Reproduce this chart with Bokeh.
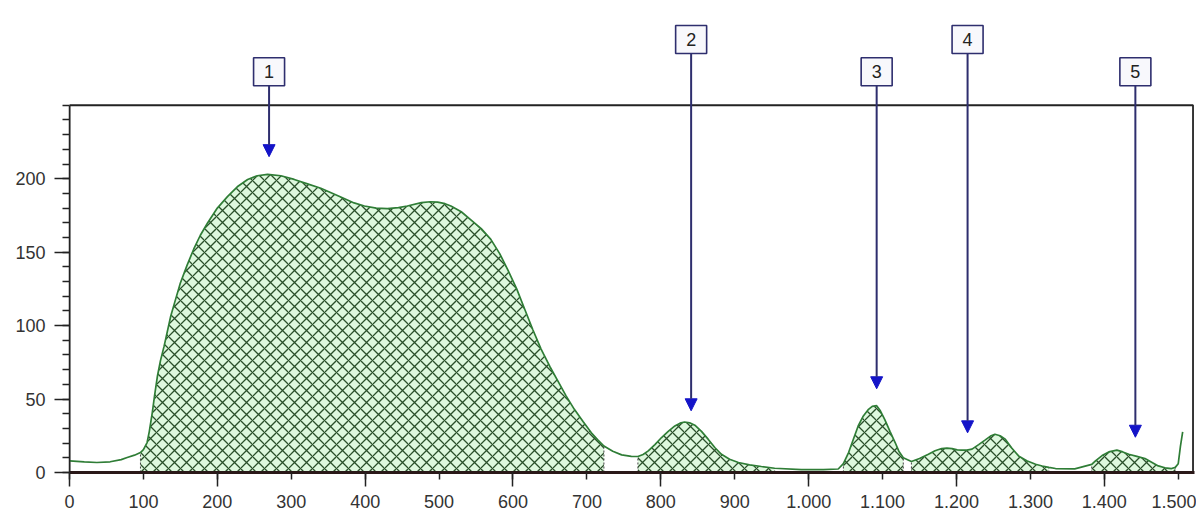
import numpy as np
from bokeh.plotting import figure
from bokeh.models import (Range1d, FixedTicker, BoxAnnotation, Arrow, NormalHead,
                          ColumnDataSource)
from bokeh.embed import file_html
from bokeh.resources import INLINE
from bokeh.core.properties import value

# ---------------- data ----------------
x_vals = [0, 20, 37, 55, 70, 78, 88, 96, 100, 105, 108, 112, 115, 119, 123, 128,
          137, 143, 150, 159, 168, 177, 187, 200, 214, 227, 241, 254, 268, 286,
          304, 322, 340, 367, 385, 399, 415, 430, 445, 457, 476, 488, 498, 508,
          516, 530, 543, 557, 570, 582, 593, 605, 616, 627, 638, 650, 661, 672,
          683, 695, 706, 715, 723, 735, 747, 760, 769, 776, 783, 792, 801, 810,
          819, 826, 832, 839, 846, 855, 864, 873, 882, 893, 905, 920, 936, 954,
          990, 1020, 1040, 1047, 1054, 1060, 1067, 1074, 1081, 1086, 1092, 1097,
          1103, 1110, 1117, 1122, 1128, 1139, 1150, 1162, 1171, 1180, 1187, 1194,
          1201, 1207, 1214, 1221, 1230, 1239, 1246, 1252, 1259, 1266, 1275, 1284,
          1295, 1307, 1316, 1325, 1334, 1360, 1383, 1388, 1397, 1406, 1417, 1425,
          1433, 1444, 1455, 1464, 1473, 1482, 1491, 1496, 1500, 1503, 1506]
y_vals = [7.9, 7.2, 6.8, 7.3, 8.8, 10.2, 11.8, 13.6, 15.5, 20.4, 28, 40.8, 52,
          65.7, 76, 86, 106.5, 117, 129, 141, 152, 161.5, 170, 180, 188, 194.5,
          199.5, 202, 203, 202, 199.5, 196.5, 193.5, 187.5, 183.5, 181.4, 180,
          179.6, 180.3, 181.4, 183.7, 184.3, 184, 183, 181.4, 177.5, 172, 166,
          158.7, 149, 138, 125, 111, 97, 84, 72, 62, 52, 43, 34.5, 27, 22, 18,
          14.5, 12, 11, 10.9, 12.3, 14.7, 19, 23.8, 28, 31.7, 33.6, 34.4, 33.8,
          32.2, 28, 22.7, 17, 12.4, 9, 6.8, 5.2, 4.1, 2.9, 2.0, 2.0, 2.4, 6.0,
          13.6, 22, 31.7, 38.5, 43, 45, 45.5, 42, 36, 28, 20.4, 14.5, 10, 7.5,
          9.5, 12.4, 14.8, 16.3, 16.6, 16.3, 15.4, 15.2, 15.2, 15.9, 19, 22.2,
          24.8, 26, 25, 22.7, 16.5, 11.3, 8, 5.6, 4.4, 3.5, 2.7, 2.5, 5.5, 7.9,
          11.5, 14, 15.2, 14, 12.4, 11, 9.5, 7, 4.5, 3.2, 2.7, 3.5, 6, 18, 27.6]

peak_labels = ["1", "2", "3", "4", "5"]
peak_x = [270, 841, 1092, 1215, 1442]
arrow_tip = [215, 42, 57, 27, 24]
region_start = [96, 769, 1047, 1139, 1383]
region_end = [723, 954, 1128, 1325, 1496]

x_tick_values = list(range(0, 1501, 100))
x_tick_labels = ["0", "100", "200", "300", "400", "500", "600", "700", "800",
                 "900", "1.000", "1.100", "1.200", "1.300", "1.400", "1.500"]
y_tick_values = [0, 50, 100, 150, 200]
y_tick_labels = ["0", "50", "100", "150", "200"]

# ---------------- layout constants ----------------
X_END = 1522
Y_END = 314.5
FRAME_TOP = 250
LOW_ROW = 272.8
HIGH_ROW = 294.8
label_row = [0, 1, 0, 1, 0]

FONT = "Liberation Sans"
LINE_GREEN = "#2f7d36"
FILL_GREEN = "#def8de"
HATCH_GREEN = "#2a4f2a"
NAVY = "#2e2e6e"
BLUE = "#1414c8"

p = figure(width=1196, height=510, x_range=Range1d(0, X_END),
           y_range=Range1d(0, Y_END), output_backend="svg",
           toolbar_location=None, min_border_left=69, min_border_right=2,
           min_border_top=10, min_border_bottom=37)
p.grid.visible = False
p.outline_line_color = None
p.background_fill_color = "white"

# x axis
xa = p.xaxis[0]
xa.ticker = FixedTicker(ticks=x_tick_values, minor_ticks=x_tick_values[::2])
xa.major_label_overrides = {float(v): s for v, s in zip(x_tick_values, x_tick_labels)}
xa.axis_line_width = 3
xa.axis_line_color = "#2a1818"
xa.major_tick_out = 7
xa.major_tick_in = 0
xa.minor_tick_out = 14
xa.minor_tick_in = 0
xa.major_tick_line_color = "#222222"
xa.minor_tick_line_color = "#222222"
xa.major_tick_line_width = 1.5
xa.minor_tick_line_width = 1.5
xa.major_label_standoff = 8

# y axis
ya = p.yaxis[0]
ya.bounds = (0, FRAME_TOP)
ya.ticker = FixedTicker(ticks=y_tick_values, minor_ticks=list(range(0, FRAME_TOP + 1, 10)))
ya.major_label_overrides = {float(v): s for v, s in zip(y_tick_values, y_tick_labels)}
ya.axis_line_color = "#222222"
ya.axis_line_width = 1.5
ya.major_tick_out = 15
ya.major_tick_in = 0
ya.minor_tick_out = 7
ya.minor_tick_in = 0
ya.major_tick_line_color = "#222222"
ya.minor_tick_line_color = "#222222"
ya.major_tick_line_width = 1.5
ya.minor_tick_line_width = 1.5
ya.major_label_standoff = 9

for ax in (xa, ya):
    ax.major_label_text_font = FONT
    ax.major_label_text_font_size = "18px"
    ax.major_label_text_color = "#333333"

# plot frame (top and right borders)
p.add_layout(BoxAnnotation(left=0, right=X_END - 2, bottom=0, top=FRAME_TOP,
                           fill_color=None, fill_alpha=0, line_color="#222222",
                           line_alpha=1.0, line_width=1.8, level="underlay"))

# hatched peak areas
for a, b in zip(region_start, region_end):
    xs = [x for x in x_vals if a <= x <= b]
    ys = [y for x, y in zip(x_vals, y_vals) if a <= x <= b]
    p.varea(x=xs, y1=0, y2=ys, fill_color=FILL_GREEN,
            hatch_pattern="diagonal_cross", hatch_color=HATCH_GREEN,
            hatch_scale=12, hatch_weight=1.3)

# dashed boundaries of the areas
lookup = dict(zip(x_vals, y_vals))
bounds = region_start + region_end
p.segment(x0=bounds, y0=[0] * len(bounds), x1=bounds,
          y1=[lookup[b] for b in bounds], line_color="#444444",
          line_dash="2 2", line_width=1)

# signal curve
p.line(x_vals, y_vals, line_color=LINE_GREEN, line_width=1.7)

# peak markers
src = ColumnDataSource(dict(
    x=peak_x,
    y0=[HIGH_ROW if r else LOW_ROW for r in label_row],
    y1=arrow_tip,
    label=peak_labels,
))
p.add_layout(Arrow(end=NormalHead(size=12, fill_color=BLUE, line_color=BLUE),
                   source=src, x_start="x", y_start="y0", x_end="x", y_end="y1",
                   line_color=NAVY, line_width=2))
r = p.rect(x="x", y="y0", width=31, height=28, width_units="screen",
           height_units="screen", source=src, fill_color="#f8f8fc",
           line_color=NAVY, line_width=1.6)
r.level = "overlay"
t = p.text(x="x", y="y0", text="label", source=src, text_align="center",
           text_baseline="middle", text_font=value(FONT),
           text_font_size="18px", text_color="#222222")
t.level = "overlay"

open("out.html", "w").write(file_html(p, INLINE))
